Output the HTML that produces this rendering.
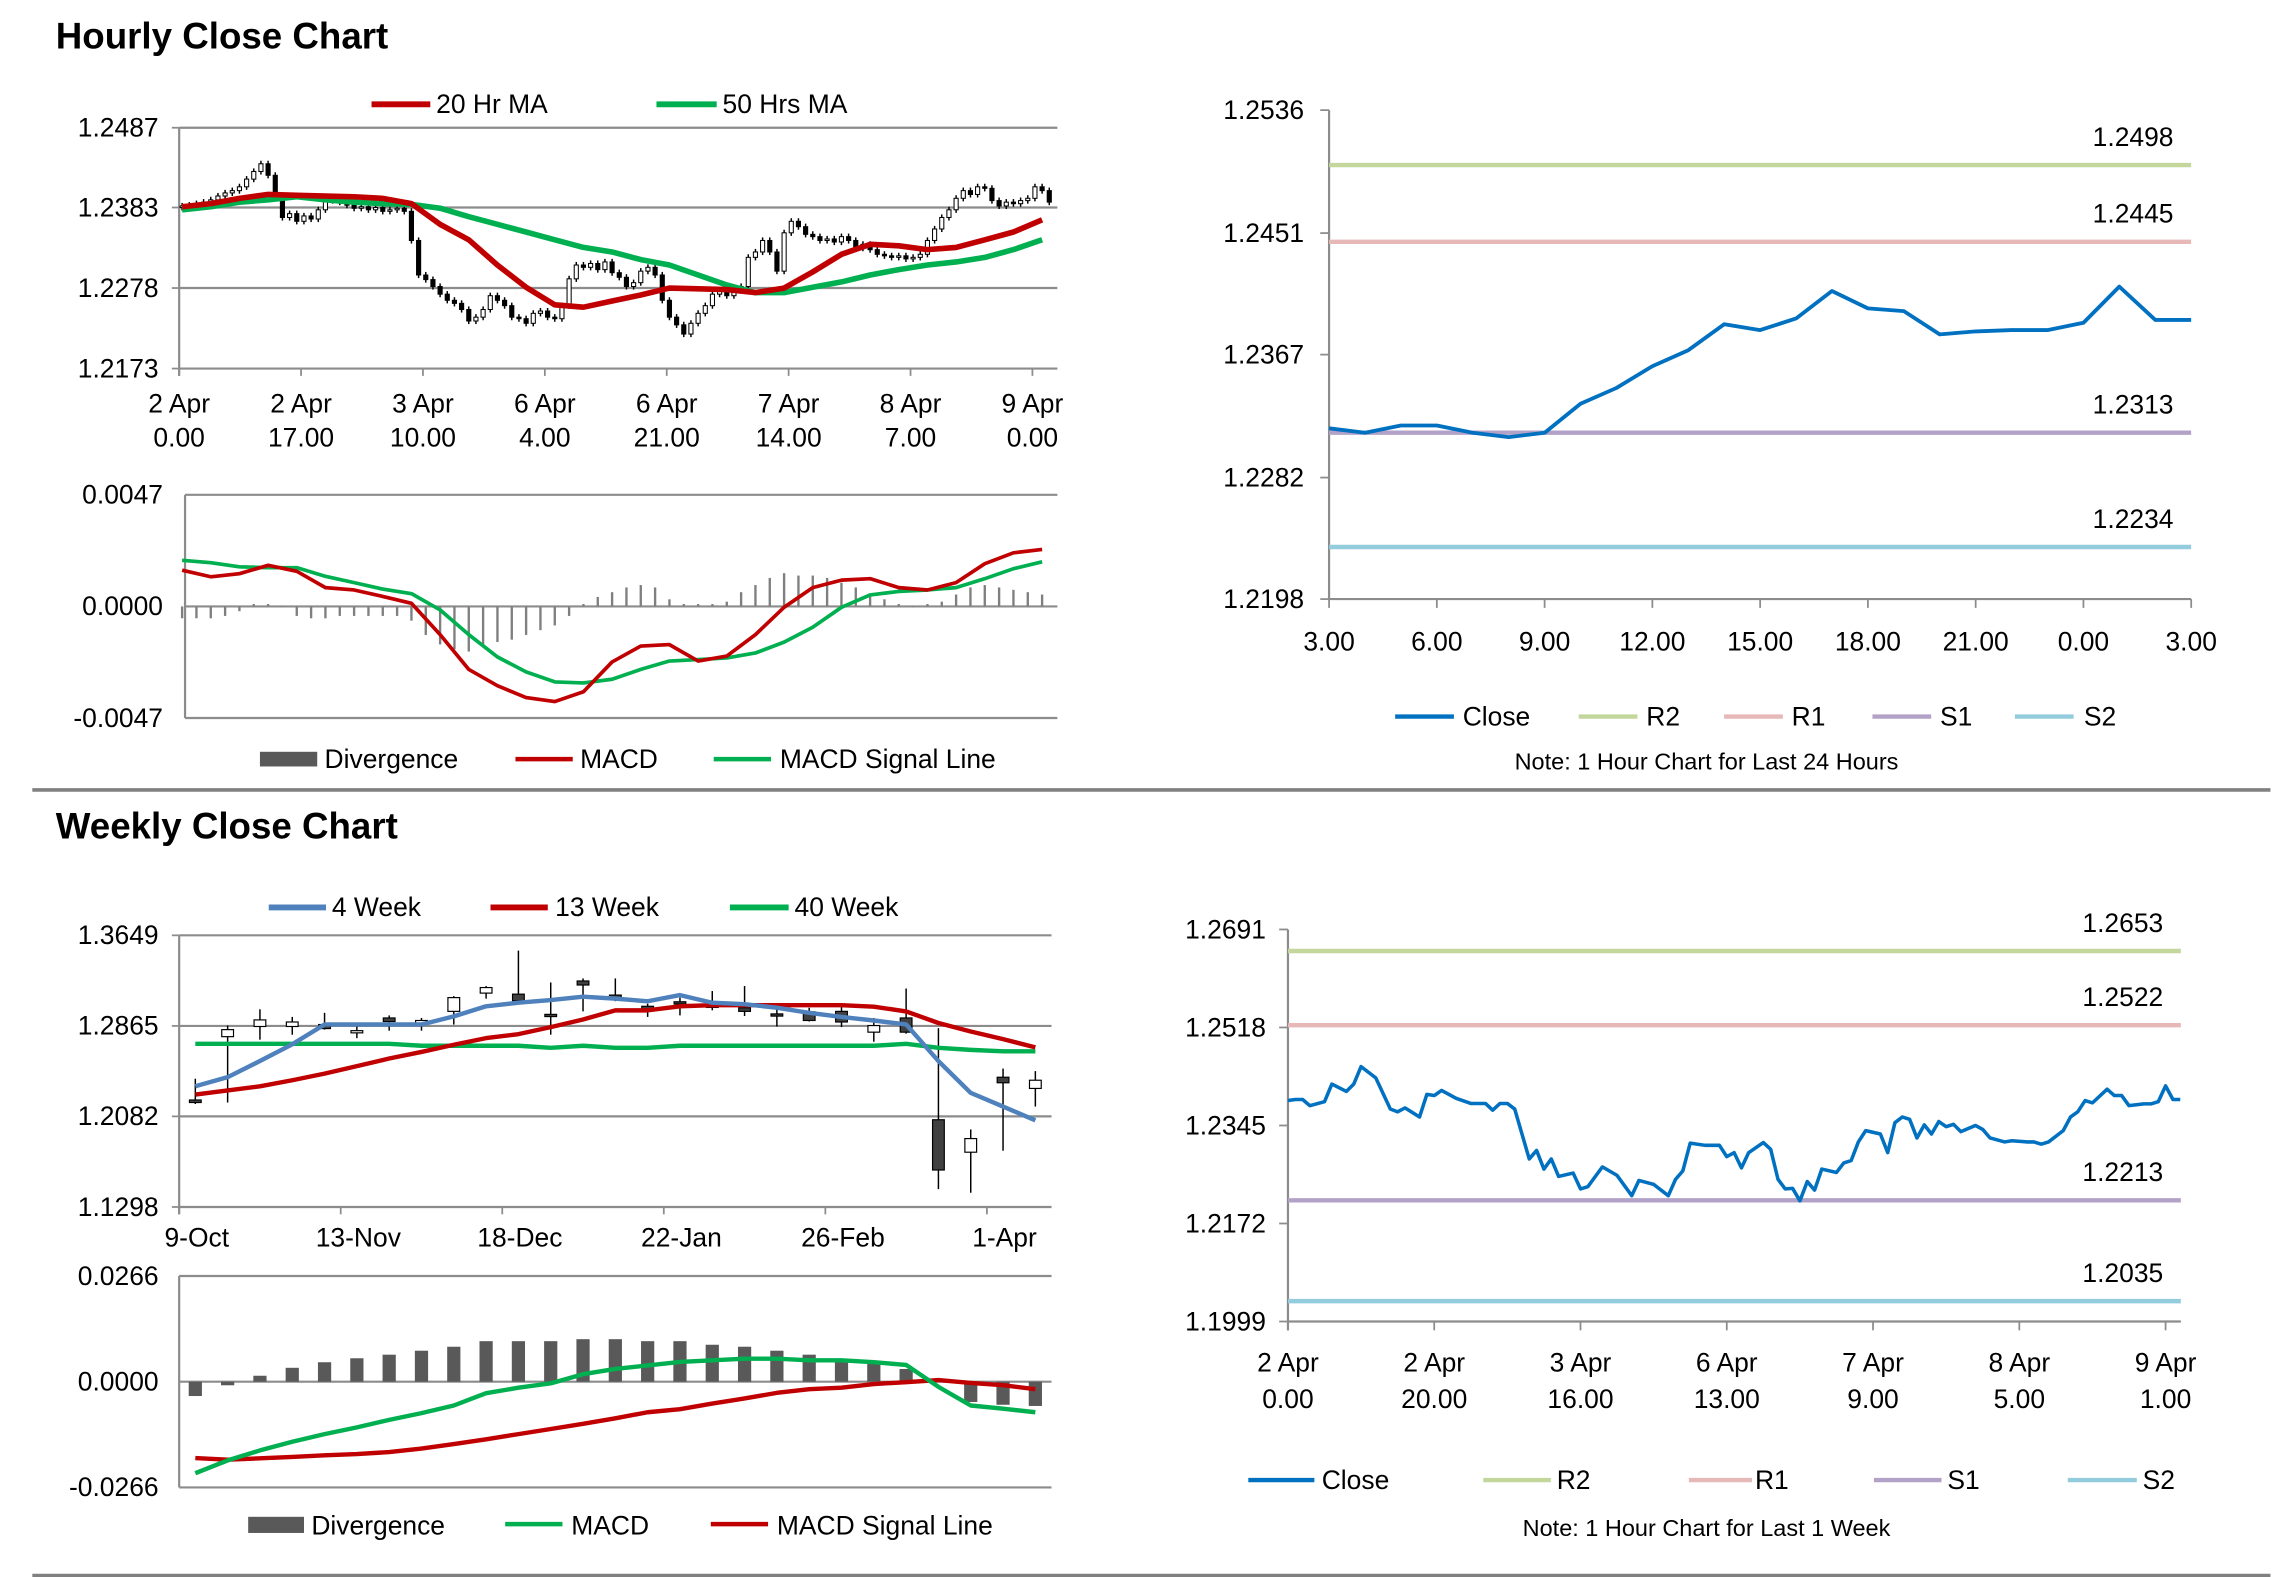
<!DOCTYPE html>
<html><head><meta charset="utf-8"><style>
html,body{margin:0;padding:0;background:#fff;}
svg{display:block;}
text{font-family:"Liberation Sans Narrow","Liberation Sans",sans-serif;fill:#000;}
.t{font-family:"Liberation Sans",sans-serif;font-weight:bold;font-size:25px;}
.tk{font-size:18px;}
.lg{font-size:18px;}
.nt{font-size:16px;}
</style></head><body>
<svg id="s" xmlns="http://www.w3.org/2000/svg" width="2291" height="1577" viewBox="0 0 1560 1074" preserveAspectRatio="none">
<rect x="0" y="0" width="1560" height="1074" fill="#fff"/>
<text class="t" x="38" y="33">Hourly Close Chart</text>
<text class="t" x="38" y="571">Weekly Close Chart</text>
<line x1="22" y1="538" x2="1546" y2="538" stroke="#808080" stroke-width="2.5"/>
<line x1="22" y1="1073" x2="1546" y2="1073" stroke="#808080" stroke-width="2.5"/>

<g>
<line x1="253" y1="71" x2="293" y2="71" stroke="#c00000" stroke-width="4"/>
<text class="lg" x="297" y="77">20 Hr MA</text>
<line x1="447" y1="71" x2="488" y2="71" stroke="#00b050" stroke-width="4"/>
<text class="lg" x="492" y="77">50 Hrs MA</text>
</g>
<g>
<rect x="177" y="512" width="39" height="10" fill="#595959"/>
<text class="lg" x="221" y="523">Divergence</text>
<line x1="351" y1="517" x2="390" y2="517" stroke="#c00000" stroke-width="3"/>
<text class="lg" x="395" y="523">MACD</text>
<line x1="486" y1="517" x2="525" y2="517" stroke="#00b050" stroke-width="3"/>
<text class="lg" x="531" y="523">MACD Signal Line</text>
</g>
<g>
<line x1="950" y1="488" x2="990" y2="488" stroke="#0070c0" stroke-width="3"/>
<text class="lg" x="996" y="494">Close</text>
<line x1="1075" y1="488" x2="1115" y2="488" stroke="#c3d69b" stroke-width="3"/>
<text class="lg" x="1121" y="494">R2</text>
<line x1="1174" y1="488" x2="1214" y2="488" stroke="#e6b9b8" stroke-width="3"/>
<text class="lg" x="1220" y="494">R1</text>
<line x1="1275" y1="488" x2="1315" y2="488" stroke="#b3a2c7" stroke-width="3"/>
<text class="lg" x="1321" y="494">S1</text>
<line x1="1372" y1="488" x2="1412" y2="488" stroke="#93cddd" stroke-width="3"/>
<text class="lg" x="1419" y="494">S2</text>
<text class="nt" x="1162" y="524" text-anchor="middle">Note: 1 Hour Chart for Last 24 Hours</text>
</g>
<g>
<line x1="183" y1="618" x2="222" y2="618" stroke="#4f81bd" stroke-width="4"/>
<text class="lg" x="226" y="624">4 Week</text>
<line x1="334" y1="618" x2="373" y2="618" stroke="#c00000" stroke-width="4"/>
<text class="lg" x="378" y="624">13 Week</text>
<line x1="497" y1="618" x2="537" y2="618" stroke="#00b050" stroke-width="4"/>
<text class="lg" x="541" y="624">40 Week</text>
</g>
<g>
<rect x="169" y="1033" width="38" height="11" fill="#595959"/>
<text class="lg" x="212" y="1045">Divergence</text>
<line x1="344" y1="1038" x2="383" y2="1038" stroke="#00b050" stroke-width="3"/>
<text class="lg" x="389" y="1045">MACD</text>
<line x1="484" y1="1038" x2="523" y2="1038" stroke="#c00000" stroke-width="3"/>
<text class="lg" x="529" y="1045">MACD Signal Line</text>
</g>
<g>
<line x1="850" y1="1008" x2="895" y2="1008" stroke="#0070c0" stroke-width="3"/>
<text class="lg" x="900" y="1014">Close</text>
<line x1="1010" y1="1008" x2="1056" y2="1008" stroke="#c3d69b" stroke-width="3"/>
<text class="lg" x="1060" y="1014">R2</text>
<line x1="1150" y1="1008" x2="1193" y2="1008" stroke="#e6b9b8" stroke-width="3"/>
<text class="lg" x="1195" y="1014">R1</text>
<line x1="1276" y1="1008" x2="1322" y2="1008" stroke="#b3a2c7" stroke-width="3"/>
<text class="lg" x="1326" y="1014">S1</text>
<line x1="1408" y1="1008" x2="1455" y2="1008" stroke="#93cddd" stroke-width="3"/>
<text class="lg" x="1459" y="1014">S2</text>
<text class="nt" x="1162" y="1046" text-anchor="middle">Note: 1 Hour Chart for Last 1 Week</text>
</g>
</svg>
<script>
const hCloses=[1.2385,1.2386,1.2388,1.2390,1.2393,1.2398,1.2402,1.2405,1.2410,1.2420,
1.2430,1.2440,1.2425,1.2395,1.2370,1.2375,1.2365,1.2372,1.2368,1.2380,
1.2392,1.2395,1.2390,1.2386,1.2382,1.2384,1.2380,1.2383,1.2378,1.2380,
1.2382,1.2378,1.2340,1.2295,1.2289,1.2280,1.2270,1.2262,1.2258,1.2250,
1.2235,1.2240,1.2250,1.2268,1.2262,1.2255,1.2240,1.2238,1.2232,1.2245,
1.2248,1.2240,1.2238,1.2255,1.2290,1.2308,1.2305,1.2310,1.2302,1.2312,
1.2298,1.2292,1.2280,1.2285,1.2300,1.2305,1.2295,1.2262,1.2240,1.2230,
1.2218,1.2232,1.2245,1.2255,1.2270,1.2275,1.2268,1.2278,1.2280,1.2318,
1.2325,1.2340,1.2325,1.2300,1.2350,1.2365,1.2358,1.2348,1.2345,1.2340,
1.2342,1.2338,1.2345,1.2340,1.2330,1.2335,1.2328,1.2322,1.2320,1.2318,
1.2320,1.2316,1.2318,1.2322,1.2340,1.2355,1.2370,1.2380,1.2395,1.2405,
1.2400,1.2410,1.2408,1.2392,1.2385,1.2390,1.2388,1.2392,1.2395,1.2410,1.2405,1.2390];
const hFirstOpen=1.2383;
const ma20=[1.2384,1.2388,1.2395,1.2400,1.2399,1.2398,1.2397,1.2395,1.2388,1.2361,1.2341,1.2308,1.2279,1.2256,1.2253,1.2261,1.2269,1.2278,1.2277,1.2276,1.2272,1.2278,1.2299,1.2322,1.2335,1.2333,1.2328,1.2331,1.2341,1.2351,1.2367];
const ma50=[1.2380,1.2384,1.2390,1.2393,1.2397,1.2393,1.2390,1.2388,1.2387,1.2382,1.2371,1.2361,1.2351,1.2341,1.2331,1.2325,1.2315,1.2308,1.2295,1.2282,1.2272,1.2272,1.2279,1.2286,1.2295,1.2302,1.2308,1.2312,1.2318,1.2328,1.2341];
const hDiv=[-0.0005,-0.0005,-0.0005,-0.0004,-0.0002,0.0001,0.0001,0.0000,-0.0004,-0.0005,
-0.0005,-0.0004,-0.0004,-0.0004,-0.0004,-0.0004,-0.0006,-0.0012,-0.0016,-0.0018,
-0.0019,-0.0017,-0.0015,-0.0014,-0.0012,-0.0010,-0.0008,-0.0004,0.0001,0.0004,
0.0006,0.0008,0.0009,0.0008,0.0003,0.0001,0.0001,0.0001,0.0002,0.0006,
0.0009,0.0012,0.0014,0.0013,0.0013,0.0012,0.0010,0.0008,0.0005,0.0003,
0.0001,0.0000,0.0001,0.0002,0.0005,0.0008,0.0009,0.0008,0.0007,0.0006,0.0005];
const hMacd=[0.00153,0.00125,0.00138,0.00173,0.00148,0.00079,0.00069,0.00042,0.00013,-0.00119,-0.00265,-0.00334,-0.00384,-0.00401,-0.00359,-0.00234,-0.00167,-0.00161,-0.0023,-0.00209,-0.00119,-0.00004,0.00079,0.00111,0.00117,0.00079,0.00069,0.001,0.0018,0.00226,0.0024];
const hSignal=[0.00194,0.00184,0.00167,0.00163,0.00163,0.00127,0.001,0.00073,0.00054,-0.00015,-0.00119,-0.00213,-0.00276,-0.00318,-0.00322,-0.00307,-0.00265,-0.0023,-0.00224,-0.00217,-0.00196,-0.0015,-0.00088,-0.00004,0.00048,0.00063,0.00069,0.00079,0.00117,0.00159,0.00188];
const hPriceTicks=["1.2487","1.2383","1.2278","1.2173"];
const hDateTicks=[["2 Apr","0.00"],["2 Apr","17.00"],["3 Apr","10.00"],["6 Apr","4.00"],["6 Apr","21.00"],["7 Apr","14.00"],["8 Apr","7.00"],["9 Apr","0.00"]];
const hMacdTicks=["0.0047","0.0000","-0.0047"];
const dHourLabels=["3.00","6.00","9.00","12.00","15.00","18.00","21.00","0.00","3.00"];
const dPriceTicks=["1.2536","1.2451","1.2367","1.2282","1.2198"];
const dCloses=[1.2316,1.2313,1.2318,1.2318,1.2313,1.2310,1.2313,1.2333,1.2344,1.2359,1.2370,1.2388,1.2384,1.2392,1.2411,1.2399,1.2397,1.2381,1.2383,1.2384,1.2384,1.2389,1.2414,1.2391,1.2391];
const dLevels=[1.2498,1.2445,1.2313,1.2234];
const dLevelNames=["r2","r1","s1","s2"];
const wLabels=["9-Oct","13-Nov","18-Dec","22-Jan","26-Feb","1-Apr"];
const wPriceTicks=["1.3649","1.2865","1.2082","1.1298"];
const wOpen=[1.2224,1.2772,1.2860,1.2860,1.2877,1.2824,1.2934,1.2877,1.2991,1.3149,1.3140,1.2965,1.3254,1.3132,1.3035,1.3074,1.3044,1.3022,1.2969,1.2987,1.2991,1.2811,1.2934,1.2053,1.1772,1.2421,1.2324];
const wClose=[1.2202,1.2833,1.2917,1.2899,1.2842,1.2824,1.2903,1.2912,1.3110,1.3197,1.3083,1.2947,1.3219,1.3110,1.3013,1.3061,1.3031,1.2991,1.2956,1.2912,1.2899,1.2868,1.2811,1.1618,1.1890,1.2373,1.2395];
const wHigh=[1.2408,1.2868,1.3009,1.2943,1.2978,1.2890,1.2956,1.2934,1.3123,1.3210,1.3517,1.3241,1.3276,1.3276,1.3057,1.3110,1.3167,1.3210,1.3044,1.3022,1.3035,1.2934,1.3189,1.2846,1.1969,1.2496,1.2474];
const wLow=[1.2189,1.2202,1.2746,1.2789,1.2833,1.2759,1.2824,1.2824,1.2877,1.3101,1.3066,1.2789,1.2991,1.3079,1.2943,1.2956,1.3000,1.2951,1.2860,1.2903,1.2855,1.2728,1.2798,1.1452,1.1421,1.1785,1.2167];
const w4=[1.2342,1.2421,1.2561,1.2706,1.2877,1.2877,1.2877,1.2877,1.2947,1.3035,1.3066,1.3088,1.3118,1.3101,1.3079,1.3132,1.3066,1.3053,1.3022,1.2978,1.2943,1.2912,1.2877,1.2561,1.2285,1.2167,1.2048];
const w13=[1.2272,1.2307,1.2342,1.2395,1.2452,1.2517,1.2583,1.2640,1.2702,1.2759,1.2794,1.2855,1.2921,1.3000,1.3000,1.3035,1.3044,1.3044,1.3044,1.3044,1.3044,1.3031,1.2991,1.2890,1.2816,1.2750,1.2680];
const w40=[1.2710,1.2710,1.2710,1.2710,1.2710,1.2710,1.2710,1.2693,1.2693,1.2693,1.2693,1.2675,1.2693,1.2675,1.2675,1.2693,1.2693,1.2693,1.2693,1.2693,1.2693,1.2693,1.2710,1.2675,1.2658,1.2645,1.2645];
const wDiv=[-0.0036,-0.0009,0.0015,0.0035,0.0049,0.0059,0.0068,0.0078,0.0088,0.0102,0.0102,0.0102,0.0107,0.0107,0.0102,0.0102,0.0093,0.0088,0.0078,0.0068,0.0058,0.0045,0.0032,0.0004,-0.0051,-0.0058,-0.0061];
const wMacd=[-0.0230,-0.0198,-0.0173,-0.0151,-0.0132,-0.0115,-0.0096,-0.0079,-0.0060,-0.0029,-0.0015,-0.0004,0.0019,0.0032,0.0041,0.0050,0.0054,0.0058,0.0058,0.0054,0.0054,0.0049,0.0042,-0.0013,-0.0060,-0.0068,-0.0077];
const wSignal=[-0.0192,-0.0196,-0.0193,-0.0189,-0.0185,-0.0182,-0.0177,-0.0168,-0.0157,-0.0145,-0.0132,-0.0119,-0.0106,-0.0092,-0.0077,-0.0069,-0.0055,-0.0042,-0.0028,-0.0019,-0.0015,-0.0006,-0.0001,0.0004,-0.0003,-0.0009,-0.0019];
const wMacdTicks=["0.0266","0.0000","-0.0266"];
const kLabels=[["2 Apr","0.00"],["2 Apr","20.00"],["3 Apr","16.00"],["6 Apr","13.00"],["7 Apr","9.00"],["8 Apr","5.00"],["9 Apr","1.00"]];
const kPriceTicks=["1.2691","1.2518","1.2345","1.2172","1.1999"];
const kHours=[0,1,2,3,5,6,8,9,10,12,14,15,16,18,19,20,21,23,25,27,28,29,30,31,33,34,35,36,37,39,40,41,43,45,47,48,50,52,53,54,55,57,59,60,61,62,63,65,66,67,68,69,70,71,72,73,75,76,77,78,79,81,82,83,84,85,86,87,88,89,90,91,92,94,95,96,98,99,101,102,103,104,106,107,108,109,110,112,113,114,115,117,118,119,120,121,122];
const kCloses=[1.2389,1.2391,1.2391,1.2380,1.2387,1.2418,1.2405,1.2418,1.2449,1.2429,1.2374,1.2369,1.2376,1.2360,1.2400,1.2398,1.2407,1.2393,1.2384,1.2384,1.2372,1.2384,1.2384,1.2374,1.2286,1.2301,1.2268,1.2286,1.2255,1.2261,1.2233,1.2237,1.2272,1.2257,1.2221,1.2248,1.2241,1.2221,1.2250,1.2265,1.2314,1.2310,1.2310,1.2290,1.2297,1.2270,1.2297,1.2315,1.2303,1.2250,1.2233,1.2234,1.2212,1.2246,1.2231,1.2268,1.2262,1.2279,1.2283,1.2316,1.2336,1.2330,1.2297,1.2350,1.2360,1.2356,1.2323,1.2346,1.2330,1.2352,1.2343,1.2347,1.2334,1.2345,1.2338,1.2323,1.2316,1.2318,1.2316,1.2316,1.2312,1.2316,1.2336,1.2360,1.2369,1.2389,1.2385,1.2409,1.2398,1.2398,1.2380,1.2383,1.2383,1.2387,1.2415,1.2391,1.2391];
const kLevels=[1.2653,1.2522,1.2213,1.2035];

const NS='http://www.w3.org/2000/svg';
const svg=document.getElementById('s');
function mk(tag,attrs,parent){const e=document.createElementNS(NS,tag);for(const k in attrs)e.setAttribute(k,attrs[k]);(parent||svg).appendChild(e);return e;}
function txt(x,y,s,anchor,parent){const e=mk('text',{x:x,y:y,'class':'tk','text-anchor':anchor},parent);e.textContent=s;return e;}
const lvlColors=["#c3d69b","#e6b9b8","#b3a2c7","#93cddd"];

const A={x0:122,x1:720,yTop:87,yBot:251,vTop:1.2487,vBot:1.2173};
const yA=v=>A.yTop+(A.vTop-v)/(A.vTop-A.vBot)*(A.yBot-A.yTop);
const xA=i=>124+i*4.88;
let g=mk('g',{});


hPriceTicks.forEach((t,k)=>{const v=parseFloat(t);const y=yA(v);
 if(k<hPriceTicks.length-1){const l=mk('line',{x1:A.x0,y1:y,x2:A.x1,y2:y,stroke:'#8c8c8c','stroke-width':1.5},g);
 
 }
 const tm=mk('line',{x1:A.x0-5,y1:y,x2:A.x0,y2:y,stroke:'#8c8c8c','stroke-width':1.2},g);
 
 
 const e=txt(108,y+6,t,'end',g);
 
 });
let ax=mk('line',{x1:A.x0,y1:A.yTop,x2:A.x0,y2:A.yBot+5,stroke:'#8c8c8c','stroke-width':1.5},g);


ax=mk('line',{x1:A.x0,y1:A.yBot,x2:A.x1,y2:A.yBot,stroke:'#8c8c8c','stroke-width':1.5},g);


hDateTicks.forEach((t,k)=>{const x=A.x0+k*83;
 const tm=mk('line',{x1:x,y1:A.yBot,x2:x,y2:A.yBot+5,stroke:'#8c8c8c','stroke-width':1.2},g);
 
 
 const a=txt(x,281,t[0],'middle',g);
 
 
 const b=txt(x,304,t[1],'middle',g);
 
 });
hCloses.forEach((c,i)=>{const o=i===0?hFirstOpen:hCloses[i-1];const x=xA(i);
 const hi=Math.max(o,c)+0.0004,lo=Math.min(o,c)-0.0004;
 const w=mk('line',{x1:x,y1:yA(hi),x2:x,y2:yA(lo),stroke:'#000','stroke-width':1},g);
 
 
 const top=yA(Math.max(o,c)),h=Math.max(1,yA(Math.min(o,c))-top);
 const r=mk('rect',{x:x-1.4,y:top,width:2.8,height:h,fill:c>=o?'#fff':'#000',stroke:'#000','stroke-width':0.7},g);
 
 });
function polyline(vals,xf,yf,color,w,name,parent){const p=vals.map((v,i)=>xf(i).toFixed(1)+','+yf(v).toFixed(1)).join(' ');
 const e=mk('polyline',{points:p,fill:'none',stroke:color,'stroke-width':w,'stroke-linejoin':'round'},parent);
 
 return e;}
polyline(ma50,j=>xA(j*4),yA,'#00b050',3.8,'ma-50-hr-line',g);
polyline(ma20,j=>xA(j*4),yA,'#c00000',3.8,'ma-20-hr-line',g);

const yM=v=>413-v/0.0047*76;
g=mk('g',{});


hMacdTicks.forEach((t,k)=>{const y=yM(parseFloat(t));
 const l=mk('line',{x1:126,y1:y,x2:720,y2:y,stroke:'#8c8c8c','stroke-width':1.5},g);
 
 
 const e=txt(111,y+6,t,'end',g);
 
 });
ax=mk('line',{x1:126,y1:337,x2:126,y2:489,stroke:'#8c8c8c','stroke-width':1.5},g);


hDiv.forEach((v,k)=>{const x=xA(k*2);const y0=yM(0),y1=yM(v);
 const b=mk('rect',{x:x-0.8,y:Math.min(y0,y1),width:1.6,height:Math.max(0.5,Math.abs(y1-y0)),fill:'#7f7f7f'},g);
 
 });
polyline(hSignal,j=>xA(j*4),yM,'#00b050',2.5,'hourly-signal-line',g);
polyline(hMacd,j=>xA(j*4),yM,'#c00000',2.5,'hourly-macd-line',g);

const xB=h=>905+h*24.46;
const yB=v=>75+(1.2536-v)/0.0338*333;
g=mk('g',{});


dPriceTicks.forEach(t=>{const y=yB(parseFloat(t));
 const tm=mk('line',{x1:899,y1:y,x2:905,y2:y,stroke:'#8c8c8c','stroke-width':1.2},g);
 
 
 const e=txt(888,y+6,t,'end',g);
 
 });
ax=mk('line',{x1:905,y1:75,x2:905,y2:408,stroke:'#8c8c8c','stroke-width':1.5},g);


ax=mk('line',{x1:905,y1:408,x2:1492,y2:408,stroke:'#8c8c8c','stroke-width':1.5},g);


dHourLabels.forEach((t,k)=>{const x=xB(k*3);
 const tm=mk('line',{x1:x,y1:408,x2:x,y2:414,stroke:'#8c8c8c','stroke-width':1.2},g);
 
 
 const e=txt(x,443,t,'middle',g);
 
 });
dLevels.forEach((v,k)=>{const y=yB(v);
 const l=mk('line',{x1:905,y1:y,x2:1492,y2:y,stroke:lvlColors[k],'stroke-width':3},g);
 
 
 const e=txt(1480,y-13,v.toFixed(4),'end',g);
 
 });
polyline(dCloses,xB,yB,'#0070c0',2.6,'pivot-close-line',g);

const xC=i=>133+i*22;
const yC=v=>637+(1.3649-v)/0.2351*185;
g=mk('g',{});


wPriceTicks.forEach((t,k)=>{const y=yC(parseFloat(t));
 if(k<wPriceTicks.length-1){const l=mk('line',{x1:122,y1:y,x2:716,y2:y,stroke:'#8c8c8c','stroke-width':1.5},g);
 
 }
 const tm=mk('line',{x1:117,y1:y,x2:122,y2:y,stroke:'#8c8c8c','stroke-width':1.2},g);
 
 
 const e=txt(108,y+6,t,'end',g);
 
 });
ax=mk('line',{x1:122,y1:637,x2:122,y2:827,stroke:'#8c8c8c','stroke-width':1.5},g);


ax=mk('line',{x1:122,y1:822,x2:716,y2:822,stroke:'#8c8c8c','stroke-width':1.5},g);


wLabels.forEach((t,k)=>{const x=122+k*5*22;
 const tm=mk('line',{x1:x,y1:822,x2:x,y2:827,stroke:'#8c8c8c','stroke-width':1.2},g);
 
 
 const e=txt(xC(k*5)+1,849,t,'middle',g);
 
 });
wClose.forEach((c,i)=>{const o=wOpen[i];const x=xC(i);
 const w=mk('line',{x1:x,y1:yC(wHigh[i]),x2:x,y2:yC(wLow[i]),stroke:'#000','stroke-width':1},g);
 
 
 const top=yC(Math.max(o,c)),h=Math.max(1.5,yC(Math.min(o,c))-top);
 const r=mk('rect',{x:x-4,y:top,width:8,height:h,fill:c>=o?'#fff':'#404040',stroke:'#000','stroke-width':0.8},g);
 
 });
polyline(w40,xC,yC,'#00b050',3,'ma-40-week-line',g);
polyline(w13,xC,yC,'#c00000',3,'ma-13-week-line',g);
polyline(w4,xC,yC,'#4f81bd',3,'ma-4-week-line',g);

const yW=v=>941-v/0.0266*72;
g=mk('g',{});


wMacdTicks.forEach(t=>{const y=yW(parseFloat(t));
 const l=mk('line',{x1:122,y1:y,x2:716,y2:y,stroke:'#8c8c8c','stroke-width':1.5},g);
 
 
 const e=txt(108,y+6,t,'end',g);
 
 });
ax=mk('line',{x1:122,y1:869,x2:122,y2:1013,stroke:'#8c8c8c','stroke-width':1.5},g);


wDiv.forEach((v,i)=>{const x=xC(i);const y0=yW(0),y1=yW(v);
 const b=mk('rect',{x:x-4.5,y:Math.min(y0,y1),width:9,height:Math.max(0.5,Math.abs(y1-y0)),fill:'#595959'},g);
 
 });
polyline(wSignal,xC,yW,'#c00000',3,'weekly-signal-line',g);
polyline(wMacd,xC,yW,'#00b050',3,'weekly-macd-line',g);

const xD=h=>877+h*4.98;
const yD=v=>633+(1.2691-v)/0.0692*267;
g=mk('g',{});


kPriceTicks.forEach(t=>{const y=yD(parseFloat(t));
 const tm=mk('line',{x1:871,y1:y,x2:877,y2:y,stroke:'#8c8c8c','stroke-width':1.2},g);
 
 
 const e=txt(862,y+6,t,'end',g);
 
 });
ax=mk('line',{x1:877,y1:633,x2:877,y2:906,stroke:'#8c8c8c','stroke-width':1.5},g);


ax=mk('line',{x1:877,y1:900,x2:1485,y2:900,stroke:'#8c8c8c','stroke-width':1.5},g);


kLabels.forEach((t,k)=>{const x=xD(k*20);
 const tm=mk('line',{x1:x,y1:900,x2:x,y2:906,stroke:'#8c8c8c','stroke-width':1.2},g);
 
 
 const a=txt(x,934,t[0],'middle',g);
 
 
 const b=txt(x,959,t[1],'middle',g);
 
 });
kLevels.forEach((v,k)=>{const y=yD(v);
 const l=mk('line',{x1:877,y1:y,x2:1485,y2:y,stroke:lvlColors[k],'stroke-width':3},g);
 
 
 const e=txt(1473,y-13,v.toFixed(4),'end',g);
 
 });
polyline(kCloses,i=>xD(kHours[i]),yD,'#0070c0',2.4,'wpivot-close-line',g);
</script>
</body></html>
